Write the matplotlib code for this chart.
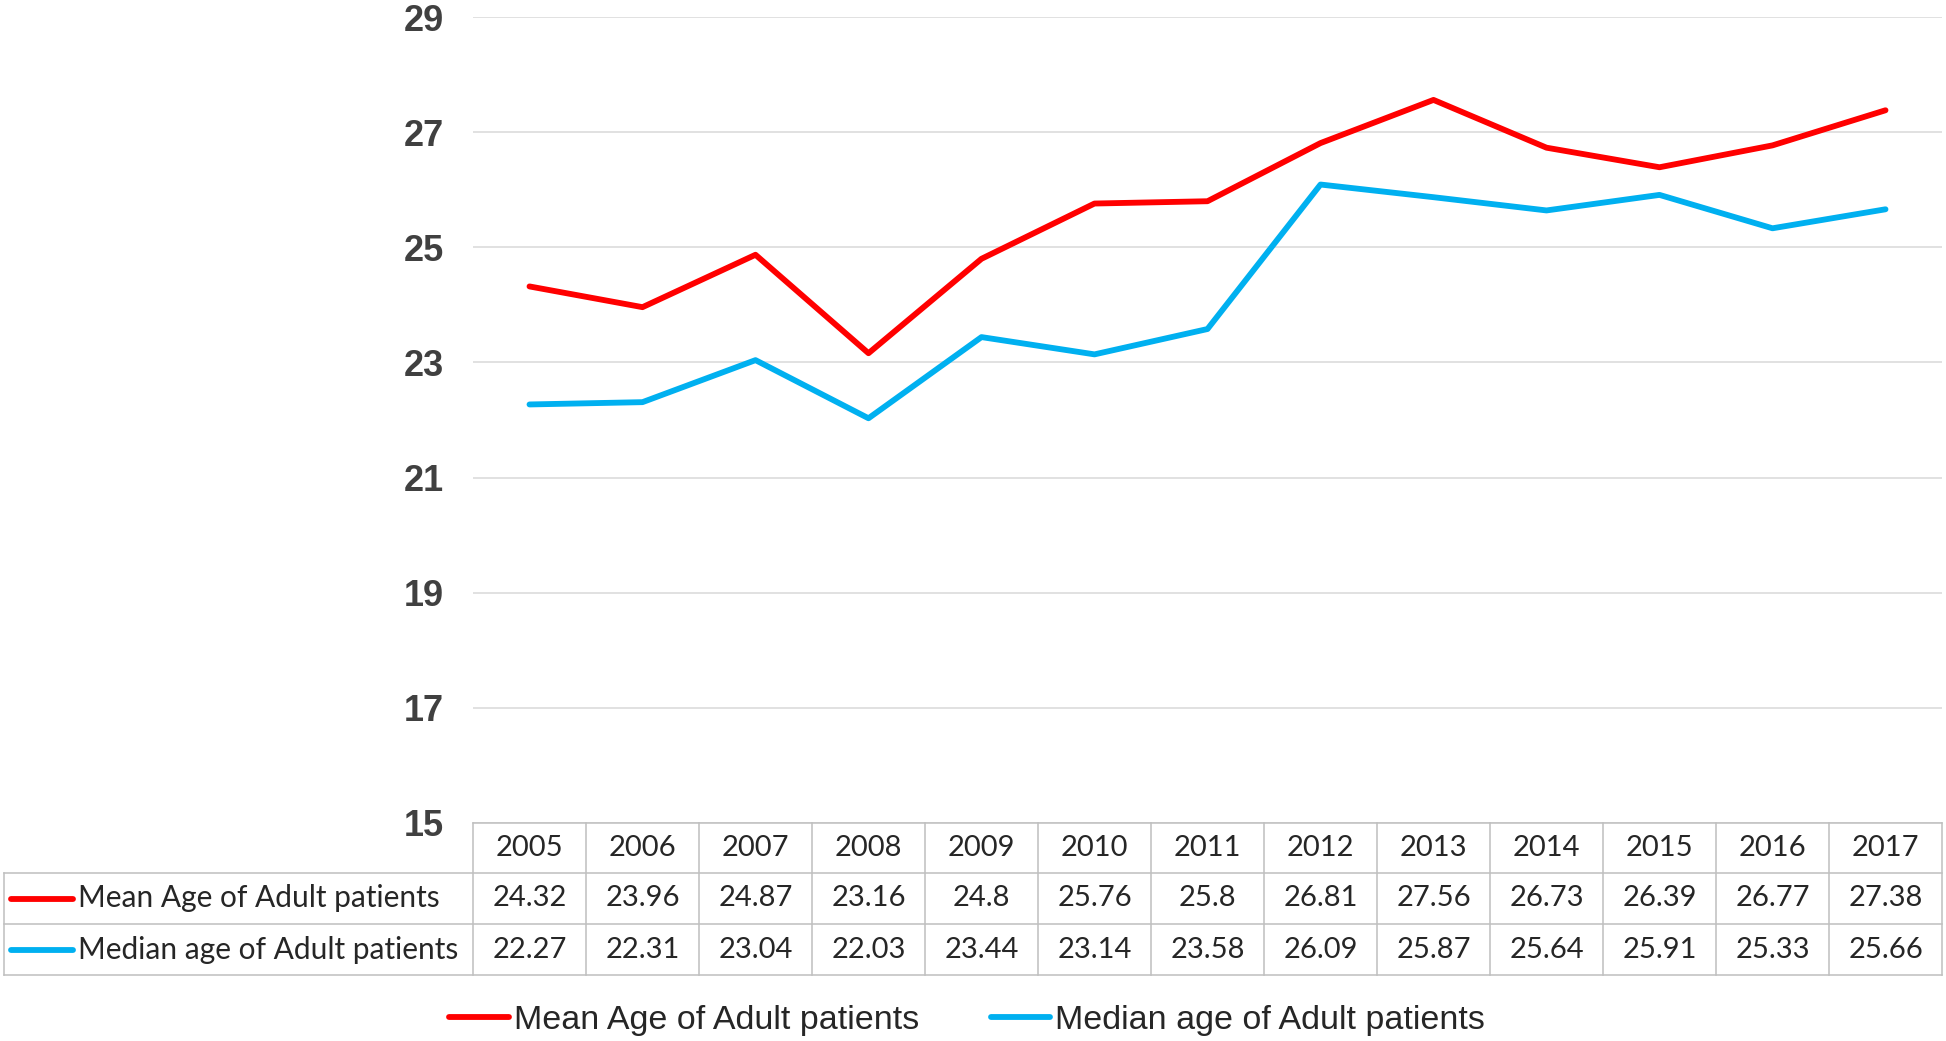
import matplotlib
matplotlib.use("Agg")
import matplotlib.pyplot as plt
from matplotlib.lines import Line2D

# data
years = ["2005", "2006", "2007", "2008", "2009", "2010", "2011",
         "2012", "2013", "2014", "2015", "2016", "2017"]
mean_age = [24.32, 23.96, 24.87, 23.16, 24.8, 25.76, 25.8,
            26.81, 27.56, 26.73, 26.39, 26.77, 27.38]
median_age = [22.27, 22.31, 23.04, 22.03, 23.44, 23.14, 23.58,
              26.09, 25.87, 25.64, 25.91, 25.33, 25.66]
series_names = ["Mean Age of Adult patients", "Median age of Adult patients"]
series_colors = ["#FF0000", "#00B0F0"]
y_ticks = [15, 17, 19, 21, 23, 25, 27, 29]

W, H = 1946, 1041
DPI = 100

# layout in pixels
plot_l, plot_r = 473, 1942
plot_t, plot_b = 17, 823
row_edges = [823, 873, 924, 975]
table_l = 4
grid_col = "#D9D9D9"
border_col = "#BFBFBF"
text_col = "#262626"
table_font = "Lato"
table_size = 21
line_w = 4.2

fig = plt.figure(figsize=(W / DPI, H / DPI), dpi=DPI)

ax = fig.add_axes([plot_l / W, 1 - plot_b / H, (plot_r - plot_l) / W, (plot_b - plot_t) / H])
n = len(years)
xs = [i + 0.5 for i in range(n)]
series = [mean_age, median_age]
for vals, name, col in zip(series, series_names, series_colors):
    ax.plot(xs, vals, color=col, lw=line_w, label=name, solid_capstyle="round", zorder=3)

ax.set_xlim(0, n)
ax.set_ylim(15, 29)
ax.set_yticks(y_ticks)
ax.set_yticklabels([str(t) for t in y_ticks], fontfamily="Liberation Sans",
                   fontweight="bold", fontsize=26, color="#404040")
ax.tick_params(axis="y", length=0, pad=21)
ax.set_xticks([])
for sp in ax.spines.values():
    sp.set_visible(False)
ax.grid(axis="y", color=grid_col, lw=1.1, zorder=0)
ax.set_axisbelow(True)

# data table under the plot, drawn in pixel space
tax = fig.add_axes([0, 0, 1, 1])
tax.set_xlim(0, W)
tax.set_ylim(H, 0)
tax.axis("off")

colw = (plot_r - plot_l) / n
kw = dict(color=border_col, lw=1.1)
# horizontal borders
tax.plot([plot_l, plot_r], [row_edges[0]] * 2, **kw)
for y in row_edges[1:]:
    tax.plot([table_l, plot_r], [y, y], **kw)
# vertical borders
for i in range(n + 1):
    x = plot_l + i * colw
    tax.plot([x, x], [row_edges[0], row_edges[-1]], **kw)
tax.plot([table_l, table_l], [row_edges[1], row_edges[-1]], **kw)

def row_mid(r):
    return (row_edges[r] + row_edges[r + 1]) / 2

for i, yr in enumerate(years):
    cx = plot_l + (i + 0.5) * colw
    tax.text(cx, row_mid(0), yr, ha="center", va="center", fontsize=table_size,
             fontfamily=table_font, color=text_col)
    for r, vals in enumerate(series):
        tax.text(cx, row_mid(r + 1), f"{vals[i]:g}", ha="center", va="center",
                 fontsize=table_size, fontfamily=table_font, color=text_col)

for r, (name, col) in enumerate(zip(series_names, series_colors)):
    ym = row_mid(r + 1)
    tax.plot([11, 73], [ym, ym], color=col, lw=line_w, solid_capstyle="round")
    tax.text(78, ym, name, ha="left", va="center", fontsize=table_size + 0.5,
             fontfamily=table_font, color=text_col)

handles = [Line2D([], [], color=c, lw=line_w, solid_capstyle="round") for c in series_colors]
fig.legend(handles, series_names, loc="center", bbox_to_anchor=(0.497, 0.02),
           ncol=2, frameon=False, handlelength=1.75, handletextpad=0.15,
           columnspacing=2.1, prop={"family": "Liberation Sans", "size": 24.5},
           labelcolor="#262626")

fig.savefig("out.png", dpi=DPI)
